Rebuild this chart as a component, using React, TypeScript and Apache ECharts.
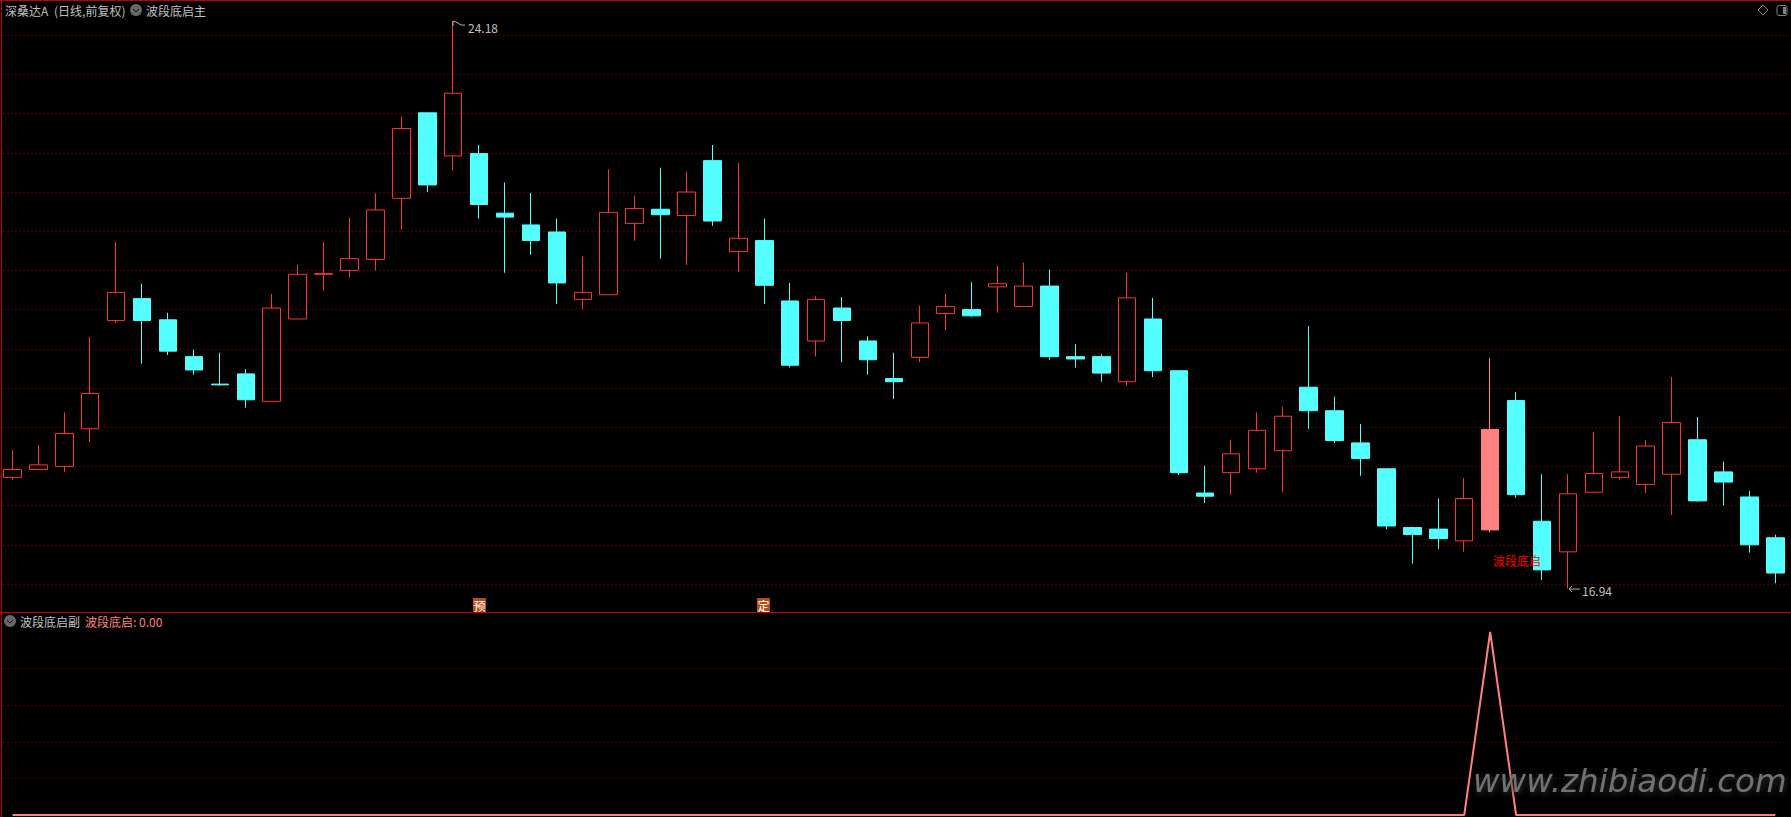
import React, { useEffect, useRef } from "react";
import * as echarts from "echarts";

const categories: string[] = Array.from({ length: 69 }, (_, i) => String(i + 1));
const opens = [18.36,18.46,18.50,18.98,20.36,20.64,20.37,19.90,19.55,19.68,19.33,20.38,20.95,21.00,21.14,21.92,23.01,22.46,22.49,21.73,21.58,21.49,20.63,20.69,21.60,21.78,21.70,22.40,21.24,21.38,20.61,20.10,20.52,20.10,19.62,19.89,20.45,20.50,20.79,20.54,20.80,19.90,19.90,19.58,20.38,19.72,18.16,18.42,18.47,18.70,19.51,19.21,18.80,18.47,17.72,17.70,17.55,17.69,19.34,17.80,17.41,18.17,18.36,18.27,18.40,18.84,18.43,18.11,17.59];
const closes = [18.46,18.52,18.92,19.43,20.72,20.36,19.97,19.73,19.54,19.35,20.52,20.95,20.96,21.15,21.77,22.81,22.09,23.26,21.84,21.68,21.38,20.84,20.72,21.74,21.79,21.71,22.00,21.63,21.41,20.81,19.79,20.63,20.36,19.86,19.58,20.33,20.54,20.42,20.83,20.80,19.90,19.87,19.69,20.65,19.72,18.42,18.12,18.66,18.96,19.14,19.21,18.83,18.60,17.74,17.63,17.58,18.09,18.97,18.14,17.18,18.15,18.41,18.43,18.76,19.06,18.06,18.30,17.50,17.14];
const lows = [18.33,18.46,18.43,18.81,20.33,19.81,19.92,19.67,19.53,19.25,19.33,20.38,20.74,20.91,21.00,21.52,22.00,22.27,21.66,20.97,21.20,20.57,20.50,20.69,21.38,21.15,21.07,21.57,20.98,20.57,19.76,19.90,19.83,19.67,19.36,19.83,20.24,20.41,20.46,20.54,19.86,19.76,19.58,19.53,19.64,18.39,18.03,18.14,18.42,18.17,18.98,18.80,18.38,17.70,17.26,17.45,17.41,17.66,18.10,17.05,16.94,18.17,18.33,18.16,17.88,18.05,18.00,17.40,17.01];
const highs = [18.71,18.77,19.19,20.15,21.36,20.83,20.46,19.99,19.95,19.74,20.70,21.07,21.36,21.67,21.98,22.96,23.01,24.18,22.60,22.12,21.99,21.66,21.18,22.29,21.95,22.31,22.26,22.60,22.37,21.66,20.84,20.67,20.66,20.16,19.95,20.55,20.70,20.85,21.06,21.10,21.01,20.06,19.93,20.97,20.65,19.73,18.51,18.84,19.19,19.26,20.29,19.39,19.04,18.47,17.73,18.09,18.35,19.88,19.45,18.40,18.40,18.94,19.14,18.84,19.64,19.13,18.56,18.19,17.63];
const signalIndex = 57;
const signalValues = categories.map((_, i) => (i === signalIndex ? 1 : 0));

const stockName = "深桑达A";
const stockMode = "(日线,前复权)";
const mainIndicator = "波段底启主";
const subIndicator = "波段底启副";
const signalName = "波段底启";
const signalText = "波段底启: 0.00";
const highLabel = "24.18";
const lowLabel = "16.94";
const watermark = "www.zhibiaodi.com";

const RED = "#ff3232";
const CYAN = "#54ffff";
const PINK = "#ff8080";
const BORDER = "#c00000";
const FONT = '"Noto Sans CJK SC", "Noto Sans", sans-serif';

const candleData = categories.map((_, i) => {
  const v = [opens[i], closes[i], lows[i], highs[i]];
  return i === signalIndex
    ? { value: v, itemStyle: { color: PINK, color0: PINK, borderColor: PINK, borderColor0: PINK } }
    : v;
});

const txt = (x: number, y: number, text: string, fill: string, extra: any = {}) => ({
  type: "text",
  x,
  y,
  z: 20,
  silent: true,
  style: { text, fill, font: `12px ${FONT}`, textVerticalAlign: "middle", ...extra },
});
const seg = (pts: number[][], stroke = "#b0b0b0") => ({
  type: "polyline",
  z: 20,
  silent: true,
  shape: { points: pts },
  style: { stroke, lineWidth: 1, fill: "none" },
});
const chevron = (cx: number, cy: number) => [
  { type: "circle", z: 20, silent: true, shape: { cx, cy, r: 6 }, style: { fill: "#666666" } },
  seg([[cx - 3, cy - 1], [cx, cy + 2], [cx + 3, cy - 1]], "#111111"),
];
const stamp = (x: number, text: string) => [
  { type: "rect", z: 20, silent: true, shape: { x, y: 598, width: 13, height: 14 }, style: { fill: "#b84c10" } },
  txt(x + 6.5, 605, text, "#ffffff", { textAlign: "center" }),
];

export default function App() {
  const ref = useRef<HTMLDivElement>(null);
  useEffect(() => {
    const chart = echarts.init(ref.current!, undefined, { renderer: "svg" });
    const splitDots = (color: string) => ({
      show: true,
      showMinLine: false,
      showMaxLine: false,
      lineStyle: { color, width: 1, type: [1, 3] as any },
    });
    chart.setOption({
      animation: false,
      backgroundColor: "#000000",
      grid: [
        { left: -0.5, width: 1788.8, top: -4, height: 627.2, outerBoundsMode: "none" },
        { left: -0.5, width: 1788.8, top: 632, height: 183, outerBoundsMode: "none" },
      ],
      xAxis: [0, 1].map((g) => ({
        type: "category",
        gridIndex: g,
        data: categories,
        boundaryGap: true,
        axisLine: { show: false },
        axisTick: { show: false },
        axisLabel: { show: false },
        splitLine: { show: false },
      })),
      yAxis: [
        { type: "value", gridIndex: 0, min: 16.5, max: 24.5, interval: 0.5, axisLine: { show: false }, axisTick: { show: false }, axisLabel: { show: false }, splitLine: splitDots("#a80000") },
        { type: "value", gridIndex: 1, min: 0, max: 1, interval: 0.2, axisLine: { show: false }, axisTick: { show: false }, axisLabel: { show: false }, splitLine: splitDots("#800000") },
      ],
      series: [
        {
          type: "candlestick",
          xAxisIndex: 0,
          yAxisIndex: 0,
          barWidth: 18,
          data: candleData,
          itemStyle: { color: "transparent", color0: CYAN, borderColor: RED, borderColor0: CYAN, borderWidth: 1 },
        },
        {
          type: "line",
          name: signalName,
          xAxisIndex: 1,
          yAxisIndex: 1,
          data: signalValues,
          showSymbol: false,
          clip: false,
          lineStyle: { color: PINK, width: 2 },
        },
      ],
      graphic: [
        { type: "rect", z: 20, silent: true, shape: { x: 0, y: 0, width: 1791, height: 1 }, style: { fill: BORDER } },
        { type: "rect", z: 20, silent: true, shape: { x: 1, y: 0, width: 1, height: 817 }, style: { fill: BORDER } },
        { type: "rect", z: 20, silent: true, shape: { x: 0, y: 612, width: 1791, height: 1 }, style: { fill: BORDER } },
        txt(5, 10, stockName, "#c0c0c0"),
        txt(54, 10, stockMode, "#c0c0c0"),
        ...chevron(136, 10),
        txt(146, 10, mainIndicator, "#c0c0c0"),
        ...chevron(10, 621),
        txt(20, 621, subIndicator, "#c0c0c0"),
        txt(85, 621, signalText, PINK),
        seg([[453, 21], [453, 26]]),
        seg([[453, 21], [458, 23], [461, 25], [465, 25]]),
        txt(468, 27, highLabel, "#c0c0c0"),
        seg([[1569, 589], [1580, 589]]),
        seg([[1572, 586], [1569, 589], [1572, 592]]),
        txt(1582, 590, lowLabel, "#c0c0c0"),
        txt(1493, 560, signalName, "#ff0000"),
        ...stamp(473, "预"),
        ...stamp(757, "定"),
        { type: "polygon", z: 20, silent: true, shape: { points: [[1763, 5], [1768, 10], [1763, 15], [1758, 10]] }, style: { fill: "none", stroke: "#808080", lineWidth: 1 } },
        { type: "rect", z: 20, silent: true, shape: { x: 1777, y: 5.5, width: 10, height: 10, r: 2 }, style: { fill: "none", stroke: "#808080", lineWidth: 1 } },
        { type: "rect", z: 20, silent: true, shape: { x: 1783, y: 7, width: 3, height: 7 }, style: { fill: "#808080" } },
        {
          type: "text",
          x: 1473,
          y: 781,
          z: 20,
          silent: true,
          style: {
            text: watermark,
            fill: "#727272",
            font: 'italic 32.5px "DejaVu Sans", sans-serif',
            textVerticalAlign: "middle",
            textShadowColor: "#303030",
            textShadowBlur: 6,
            textShadowOffsetX: 1,
            textShadowOffsetY: 2,
          },
        },
      ],
    });
    return () => chart.dispose();
  }, []);
  return <div ref={ref} style={{ position: "fixed", left: 0, top: 0, width: 1791, height: 817, background: "#000" }} />;
}
